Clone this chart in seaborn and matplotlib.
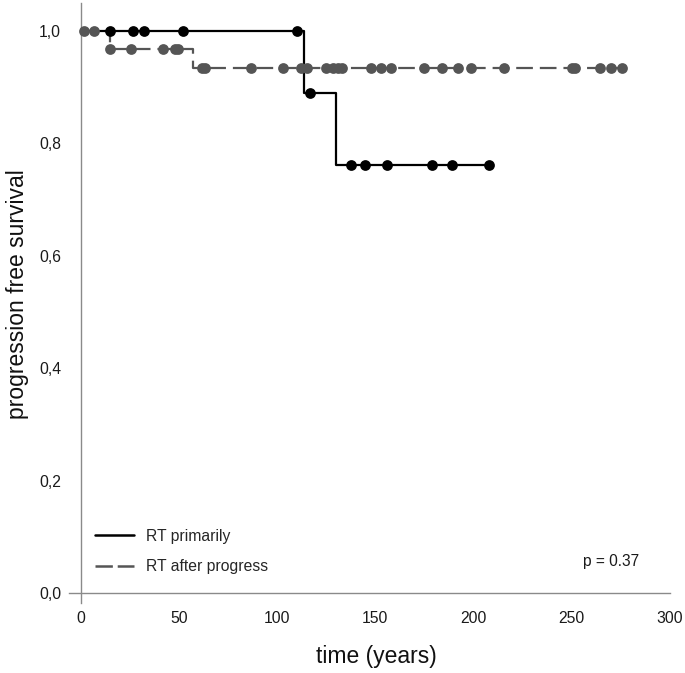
import numpy as np
import pandas as pd
import matplotlib
matplotlib.use("Agg")
import matplotlib.pyplot as plt
from matplotlib.lines import Line2D
from matplotlib.ticker import FuncFormatter
import seaborn as sns

# ---- data ----
# Group A: RT primarily (black, solid)
a_step_times = [0.0, 113.8, 130.0, 207.8]
a_step_surv = [1.0, 0.889, 0.762, 0.762]
a_censor_times = [14.8, 26.6, 32.1, 51.8, 109.9, 116.7, 137.5, 144.7, 155.9, 178.8, 189.0, 207.8]

# Group B: RT after progress (gray, dashed)
b_step_times = [0.0, 14.8, 56.9, 275.4]
b_step_surv = [1.0, 0.969, 0.935, 0.935]
b_censor_times = [1.5, 6.6, 14.9, 25.8, 41.9, 47.9, 49.6, 61.5, 63.2, 86.9, 103.0,
                  112.0, 115.4, 125.1, 128.5, 131.1, 132.8, 147.6, 152.7, 158.2,
                  174.7, 183.7, 191.9, 198.5, 215.5, 250.0, 251.7, 264.4, 270.0, 275.4]

labels = ["RT primarily", "RT after progress"]
x_ticks = [0, 50, 100, 150, 200, 250, 300]
y_ticks = [0.0, 0.2, 0.4, 0.6, 0.8, 1.0]
p_text = "p = 0.37"


def surv_at(times, step_times, step_surv):
    idx = np.searchsorted(step_times, times, side="right") - 1
    return np.asarray(step_surv)[idx]


sns.set_style("white")
plt.rcParams["font.family"] = ["Liberation Sans", "DejaVu Sans"]
plt.rcParams["lines.scale_dashes"] = False

BLACK = "#000000"
GRAY = "#555555"
SPINE = "#8a8a8a"

fig = plt.figure(figsize=(6.85, 6.73), dpi=100)
ax = fig.add_axes([69 / 685, 70 / 673, 601 / 685, 600 / 673])

dfa = pd.DataFrame({"t": a_step_times, "s": a_step_surv})
dfb = pd.DataFrame({"t": b_step_times, "s": b_step_surv})

dash = (0, (12, 5))
sns.lineplot(data=dfb, x="t", y="s", ax=ax, color=GRAY, linewidth=1.6,
             drawstyle="steps-post", linestyle=dash, zorder=2)
sns.lineplot(data=dfa, x="t", y="s", ax=ax, color=BLACK, linewidth=1.6,
             drawstyle="steps-post", zorder=3)

ca = pd.DataFrame({"t": a_censor_times,
                   "s": surv_at(a_censor_times, a_step_times, a_step_surv)})
cb = pd.DataFrame({"t": b_censor_times,
                   "s": surv_at(b_censor_times, b_step_times, b_step_surv)})
sns.scatterplot(data=cb, x="t", y="s", ax=ax, color=GRAY, s=60, linewidth=0, zorder=4)
sns.scatterplot(data=ca, x="t", y="s", ax=ax, color=BLACK, s=60, linewidth=0, zorder=5)

ax.set_xlim(-6, 300)
ax.set_ylim(-0.018, 1.05)

for side in ["top", "right"]:
    ax.spines[side].set_visible(False)
ax.spines["left"].set_position(("data", 0))
ax.spines["bottom"].set_position(("data", 0))
for side in ["left", "bottom"]:
    ax.spines[side].set_color(SPINE)
    ax.spines[side].set_linewidth(1.0)

ax.set_xticks(x_ticks)
ax.set_yticks(y_ticks)
ax.yaxis.set_major_formatter(FuncFormatter(lambda v, p: f"{v:.1f}".replace(".", ",")))
ax.tick_params(axis="both", direction="out", length=8.2, width=1.0, color=SPINE,
               labelsize=11.3, labelcolor="#1a1a1a", pad=6)
ax.tick_params(axis="x", pad=5)

ax.set_xlabel("time (years)", fontsize=16.5, color="#111111")
ax.set_ylabel("progression free survival", fontsize=16.5, color="#111111")
ax.xaxis.set_label_coords(0.511, -0.07)
ax.yaxis.set_label_coords(-0.066, 0.515)

ax.text(270, 0.055, p_text, fontsize=11.2, ha="center", va="center", color="#1a1a1a")

handles = [Line2D([], [], color=BLACK, lw=1.8),
           Line2D([], [], color=GRAY, lw=1.8, linestyle=(0, (12.5, 3.5)))]
ax.legend(handles, labels, loc="lower left", bbox_to_anchor=(0.043, 0.048),
          frameon=False, fontsize=11.3, handlelength=2.5, handletextpad=0.75,
          labelspacing=1.0, borderpad=0, borderaxespad=0)

fig.savefig("out.png", dpi=100)
